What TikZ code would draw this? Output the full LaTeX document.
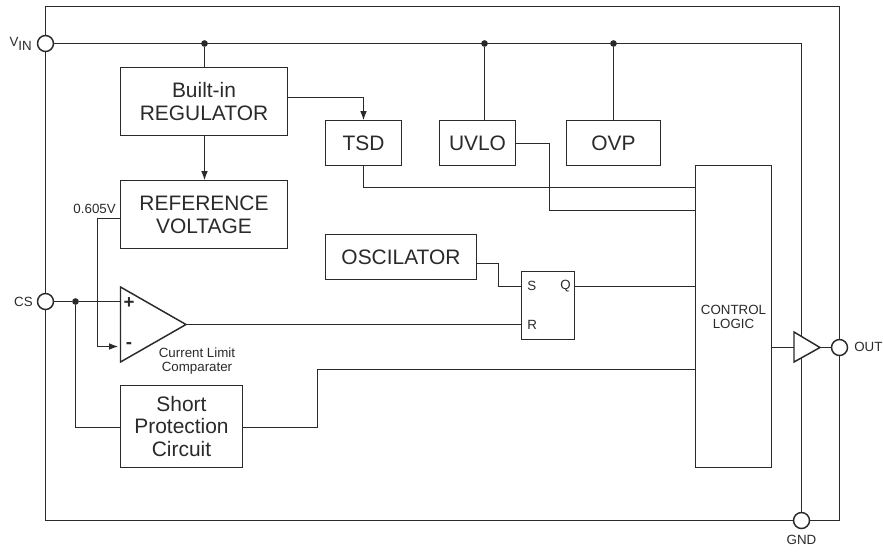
\documentclass[tikz,border=0pt]{standalone}
\usepackage{fontspec}
\setmainfont{Liberation Sans}
\usetikzlibrary{arrows.meta,calc}
\definecolor{ink}{HTML}{2A2A2A}
\tikzset{
  wire/.style={draw=ink,line width=1.1pt},
  feed/.style={wire,-{Latex[length=7pt,width=5pt]}},
  blockbox/.style={draw=ink,line width=1.1pt,fill=white,align=center,inner sep=0pt,outer sep=0pt,anchor=north west,
    font=\fontsize{15.7}{17}\selectfont,text=ink},
  pin/.style={circle,draw=ink,line width=1.1pt,fill=white,minimum size=12pt,inner sep=0pt},
  joint/.style={circle,fill=ink,minimum size=5pt,inner sep=0pt},
  smalltxt/.style={font=\fontsize{10}{10.5}\selectfont,text=ink,align=center,inner sep=0pt},
  gatesh/.style={draw=ink,line width=1.1pt,fill=white,line join=miter}
}
\newcommand{\bx}[6]{\node[blockbox,minimum width=#4*0.75pt,minimum height=#5*0.75pt] (#1) at (#2,#3) {#6};}
\begin{document}
\begin{tikzpicture}[x=0.75pt,y=-0.75pt]
\useasboundingbox (0,0) rectangle (883,551);
% pins and frame corners
\coordinate (ftl) at (45.5,6.5);
\coordinate (ftr) at (839.5,6.5);
\coordinate (fbr) at (839.5,520.5);
\coordinate (fbl) at (45.5,520.5);
\node[pin] (vin) at (45.5,43.5) {};
\node[pin] (cs) at (45.5,301.5) {};
\node[pin] (out) at (839.5,347.5) {};
\node[pin] (gnd) at (801.5,520.5) {};
\draw[wire] (vin) -- (ftl) -- (ftr) -- (out);
\draw[wire] (out) -- (fbr) -- (gnd);
\draw[wire] (gnd) -- (fbl) -- (cs);
\draw[wire] (cs) -- (vin);
% blocks
\bx{reg}{120.5}{67.5}{167}{68}{Built-in\\REGULATOR}
\bx{ref}{120.5}{180.5}{167}{68}{REFERENCE\\VOLTAGE}
\bx{tsd}{325.5}{120.5}{76}{45}{TSD}
\bx{uvlo}{439.5}{120.5}{76}{45}{UVLO}
\bx{ovp}{566.5}{120.5}{94}{45}{OVP}
\bx{osc}{325.5}{234.5}{151}{45}{OSCILATOR}
\bx{short}{120.5}{385.5}{122}{82}{Short\\Protection\\Circuit}
\bx{ctrl}{695.5}{165.5}{76}{302}{}
\node[smalltxt] (ctrltxt) at (733.5,316.5) {CONTROL\\LOGIC};
\bx{sr}{521.5}{271.5}{53}{68}{}
\node[smalltxt,anchor=west] (stxt) at (527,286) {S};
\node[smalltxt,anchor=west] (rtxt) at (527,325) {R};
\node[smalltxt,anchor=east] (qtxt) at (571,286) {Q};
% junctions
\node[joint] (j1) at (204.5,43.5) {};
\node[joint] (j2) at (484.5,43.5) {};
\node[joint] (j3) at (613.5,43.5) {};
\node[joint] (j4) at (75.5,301.5) {};
% comparator and buffer corners
\coordinate (ca) at (120.5,287);
\coordinate (cb) at (120.5,362);
\coordinate (cc) at (186,324.5);
\coordinate (cp) at (120.5,301.5);
\coordinate (cm) at (118.5,346.5);
\coordinate (ba) at (794,332);
\coordinate (bb) at (794,362);
\coordinate (bc) at (820,347.5);
% rail
\coordinate (railc) at (801.5,43.5);
\draw[wire] (vin) -- (railc) -- (gnd);
\draw[wire] (j1) -- (reg.north -| j1);
\draw[wire] (j2) -- (uvlo.north -| j2);
\draw[wire] (j3) -- (ovp.north -| j3);
% regulator
\coordinate (regout) at (287.5,97.5);
\coordinate (tsdin) at (363.5,120.5);
\draw[feed] (regout) -| (tsdin);
\draw[feed] (reg.south -| j1) -- (ref.north -| j1);
% to control logic
\coordinate (tsdout) at (363.5,165.5);
\coordinate (tsdc) at (695.5,187.5);
\draw[wire] (tsdout) |- (tsdc);
\coordinate (uvout) at (515.5,143.5);
\coordinate (uvm) at (549.5,143.5);
\coordinate (uvc) at (695.5,210.5);
\draw[wire] (uvout) -- (uvm) |- (uvc);
\coordinate (oscout) at (476.5,263.5);
\coordinate (oscm) at (498.5,263.5);
\coordinate (srs) at (521.5,286.5);
\coordinate (srr) at (521.5,324.5);
\coordinate (srq) at (574.5,286.5);
\coordinate (ctq) at (695.5,286.5);
\draw[wire] (oscout) -- (oscm) |- (srs);
\draw[wire] (srq) -- (ctq);
% comparator
\draw[wire] (cs) -- (j4) -- (cp);
\coordinate (refout) at (120.5,218.5);
\coordinate (refm) at (97.5,218.5);
\draw[feed] (refout) -- (refm) |- (cm);
\draw[gatesh] (ca) -- (cc) -- (cb) -- cycle;
\draw[wire] (cc) -- (srr);
\node[font=\fontsize{14}{14}\selectfont\bfseries,text=ink,inner sep=0pt] (plus) at (129,303) {+};
\node[font=\fontsize{14}{14}\selectfont\bfseries,text=ink,inner sep=0pt] (minus) at (129,345.5) {-};
\node[smalltxt] (cltxt) at (197,361) {Current Limit\\Comparater};
% short protection
\coordinate (shin) at (120.5,427.5);
\coordinate (shout) at (242.5,427.5);
\coordinate (shm) at (317.5,427.5);
\coordinate (ctsh) at (695.5,369.5);
\draw[wire] (j4) |- (shin);
\draw[wire] (shout) -- (shm) |- (ctsh);
% output buffer
\coordinate (ctout) at (771.5,347.5);
\draw[wire] (ctout) -- (ba |- ctout);
\draw[gatesh] (ba) -- (bc) -- (bb) -- cycle;
\draw[wire] (bc) -- (out);
\draw[wire] (railc) -- (801.5,336.3);
\draw[wire] (801.5,357.7) -- (gnd);
% labels
\node[smalltxt,anchor=east] (vlab) at (32,44) {V\raisebox{-3pt}{IN}};
\node[smalltxt,anchor=east] (cslab) at (33,301.5) {CS};
\node[smalltxt,anchor=west] (outlab) at (854,347) {OUT};
\node[smalltxt] (gndlab) at (801.5,540) {GND};
\node[smalltxt,anchor=east] (vref) at (116,209) {0.605V};
\end{tikzpicture}
\end{document}
